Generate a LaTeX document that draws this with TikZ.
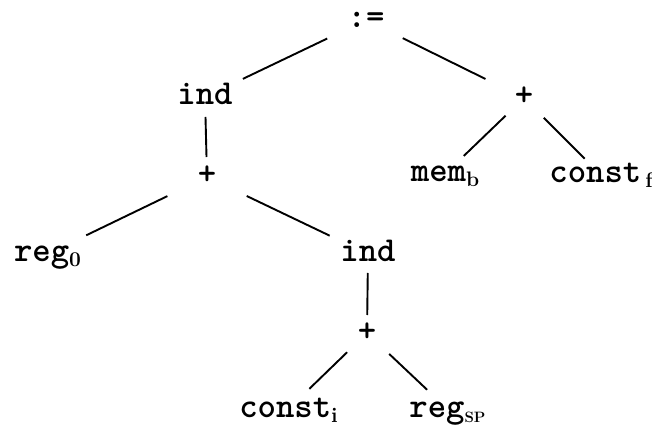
\documentclass[tikz,border=0pt]{standalone}
\usepackage{tikz}
\newcommand\subx[2][21]{\raisebox{-5pt}{\fontsize{#1}{#1}\selectfont\rmfamily\bfseries #2}}
\begin{document}
\begin{tikzpicture}[x=1pt,y=1pt,
  lbl/.style={inner sep=0pt, text height=16pt, text depth=0pt, anchor=center,
    font=\fontsize{35}{35}\selectfont\ttfamily\bfseries},
  edge/.style={line width=1.9pt}]
\fill[white] (0,0) rectangle (652,428);
\useasboundingbox (0,0) rectangle (652,428);
\node[lbl] (assign) at (366,408) {:=};
\node[lbl] (indL)   at (205,331) {ind};
\node[lbl] (plusR)  at (524,330) {+};
\node[lbl] (plusL)  at (207,251) {+};
\node[lbl] (memb)   at (445,254) {mem\subx{b}};
\node[lbl] (constf) at (601,253) {const\hspace{4pt}\subx{f}};
\node[lbl] (regL)   at (47.5,174) {reg\subx{0}};
\node[lbl] (indR)   at (368,174) {ind};
\node[lbl] (plusLow) at (367,95) {+};
\node[lbl] (consti) at (288.5,19) {const\subx{i}};
\node[lbl] (regSP)  at (447.5,19) {reg\subx[15]{SP}};
\draw[edge, shorten <=43pt, shorten >=42pt] (assign.center) -- (indL.center);
\draw[edge, shorten <=41pt, shorten >=43pt] (assign.center) -- (plusR.center);
\draw[edge, shorten <=20pt, shorten >=20pt] (indL.center) -- (plusL.center);
\draw[edge, shorten <=44pt, shorten >=43pt] (plusL.center) -- (regL.center);
\draw[edge, shorten <=44pt, shorten >=42.5pt] (plusL.center) -- (indR.center);
\draw[edge, shorten <=19pt, shorten >=18pt] (indR.center) -- (plusLow.center);
\draw[edge, shorten <=27.6pt, shorten >=29pt] (plusLow.center) -- (consti.center);
\draw[edge, shorten <=30.5pt, shorten >=28pt] (plusLow.center) -- (regSP.center);
\draw[edge, shorten <=25.5pt, shorten >=26pt] (plusR.center) -- (memb.center);
\draw[edge, shorten <=28pt, shorten >=23pt] (plusR.center) -- (constf.center);
\end{tikzpicture}
\end{document}
